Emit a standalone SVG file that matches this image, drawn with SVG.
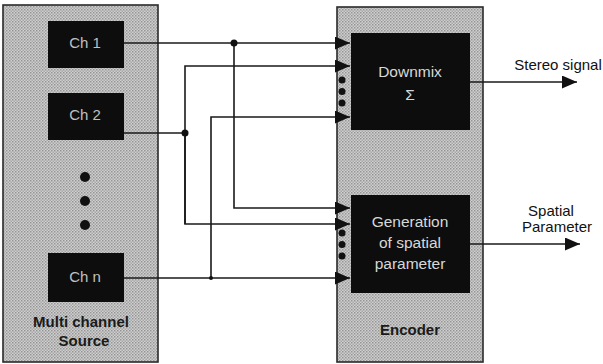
<svg xmlns="http://www.w3.org/2000/svg" width="603" height="364" viewBox="0 0 603 364">
<style>
.panel{fill:url(#halftone);stroke:#2a2a2a;stroke-width:1.6}
.blk{fill:#0d0d0d}
.wire{fill:none;stroke:#1a1a1a;stroke-width:1.6}
.dot{fill:#111}
.ch{font-family:"Liberation Sans",Arial,sans-serif;font-size:15px;fill:#c0c0c0;text-anchor:middle}
.wt{font-family:"Liberation Sans",Arial,sans-serif;font-size:15.5px;fill:#d8d8d8;text-anchor:middle}
.lbl{font-family:"Liberation Sans",Arial,sans-serif;font-size:15px;fill:#111;text-anchor:middle}
.bold{font-family:"Liberation Sans",Arial,sans-serif;font-size:15px;font-weight:bold;fill:#1a1a1a;text-anchor:middle}
</style>
<defs>
<pattern id="halftone" width="3" height="3" patternUnits="userSpaceOnUse">
<rect width="3" height="3" fill="#cfcfcf"/>
<rect x="0" y="0" width="1.5" height="1.5" fill="#959595"/>
<rect x="1.5" y="1.5" width="1.5" height="1.5" fill="#a8a8a8"/>
</pattern>
<marker id="arr" markerUnits="userSpaceOnUse" markerWidth="16" markerHeight="13" refX="15" refY="6.5" orient="auto">
<path d="M0,0 L15,6.5 L0,13 Z" fill="#111"/>
</marker>
</defs>

<g id="source">
<rect class="panel" x="3" y="5" width="155" height="357"/>
<text class="bold" x="81" y="327">Multi channel</text>
<text class="bold" x="84" y="346">Source</text>
</g>
<g id="ch1">
<rect class="blk" x="48" y="21" width="76" height="47"/>
<text class="ch" x="85" y="48">Ch 1</text>
</g>
<g id="ch2">
<rect class="blk" x="48" y="93" width="76" height="47"/>
<text class="ch" x="85" y="120">Ch 2</text>
</g>
<g id="ellipsis">
<circle class="dot" cx="85" cy="177" r="5"/>
<circle class="dot" cx="85" cy="201" r="5"/>
<circle class="dot" cx="85" cy="225" r="5"/>
</g>
<g id="chn">
<rect class="blk" x="48" y="253" width="76" height="49"/>
<text class="ch" x="85" y="282">Ch n</text>
</g>

<g id="encoder">
<rect class="panel" x="337" y="7" width="146" height="355"/>
<text class="bold" x="410" y="335">Encoder</text>
</g>
<g id="downmix">
<rect class="blk" x="351" y="33" width="119" height="97"/>
<text class="wt" x="410" y="77">Downmix</text>
<text class="wt" x="410" y="100">Σ</text>
</g>
<g id="generation">
<rect class="blk" x="351" y="195" width="119" height="98"/>
<text class="wt" x="410" y="227">Generation</text>
<text class="wt" x="410" y="248">of spatial</text>
<text class="wt" x="410" y="269">parameter</text>
</g>
<g id="stereo-label">
<text class="lbl" x="558" y="70">Stereo signal</text>
</g>
<g id="spatial-label">
<text class="lbl" x="551" y="216">Spatial</text>
<text class="lbl" x="557" y="232">Parameter</text>
</g>

<g id="connectors">
<path class="wire" d="M124,43 H350" marker-end="url(#arr)"/>
<path class="wire" d="M234,43 V208 H350" marker-end="url(#arr)"/>
<path class="wire" d="M124,133 H185"/>
<path class="wire" d="M185,224 V66 H350" marker-end="url(#arr)"/>
<path class="wire" d="M185,133 V224 H350" marker-end="url(#arr)"/>
<path class="wire" d="M124,278 H350" marker-end="url(#arr)"/>
<path class="wire" d="M211,278 V117 H350" marker-end="url(#arr)"/>
<circle class="dot" cx="234" cy="43" r="3.5"/>
<circle class="dot" cx="185" cy="133" r="3.5"/>
<circle class="dot" cx="211" cy="278" r="2"/>
<circle class="dot" cx="342" cy="80" r="3.5"/>
<circle class="dot" cx="342" cy="91.5" r="3.5"/>
<circle class="dot" cx="342" cy="103" r="3.5"/>
<circle class="dot" cx="342" cy="233" r="3.5"/>
<circle class="dot" cx="342" cy="244.5" r="3.5"/>
<circle class="dot" cx="342" cy="256" r="3.5"/>
<path class="wire" d="M470,82 H577" marker-end="url(#arr)"/>
<path class="wire" d="M470,244 H580" marker-end="url(#arr)"/>
</g>
</svg>
